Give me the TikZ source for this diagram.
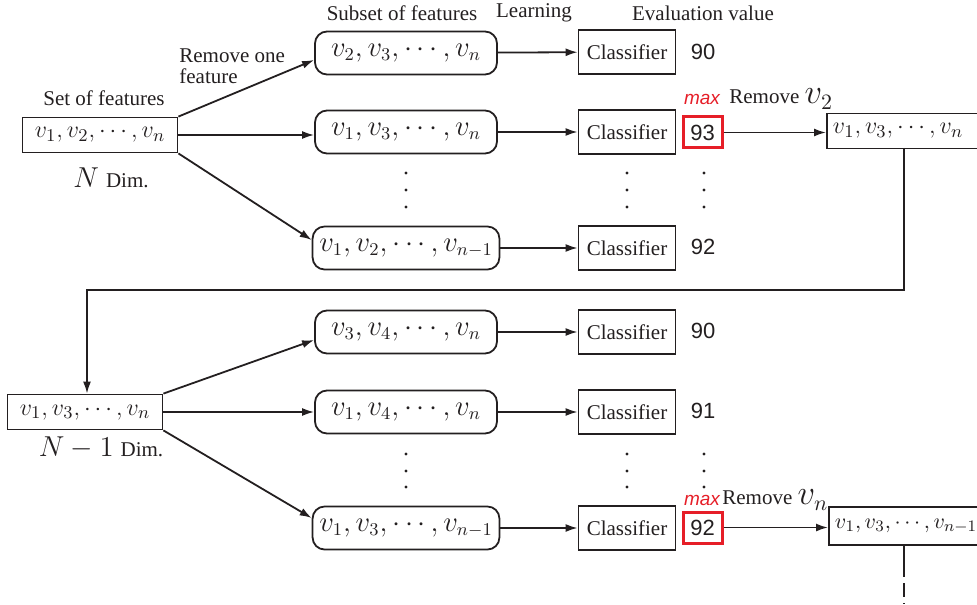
\documentclass[tikz,border=0pt]{standalone}
\usepackage{fontspec}
\setmainfont{Liberation Serif}
\newfontfamily\numfont{Liberation Sans}
\usetikzlibrary{arrows.meta,calc}
\definecolor{ink}{RGB}{35,31,32}
\definecolor{redc}{RGB}{230,30,40}
\begin{document}
\begin{tikzpicture}[x=0.5pt,y=-0.5pt,
  every node/.style={text=ink},
  lbl/.style={font=\fontsize{10.5}{10.5}\selectfont, inner sep=0},
  setbox/.style={draw=ink, line width=0.9pt, inner xsep=3pt, minimum height=17.5pt, font=\fontsize{13}{15}\selectfont},
  resbox/.style={draw=ink, line width=0.9pt, inner xsep=3pt, text width=75pt, align=left, anchor=west},
  subbox/.style={draw=ink, line width=0.9pt, rounded corners=6pt, minimum width=91pt, minimum height=21.5pt, font=\fontsize{13.5}{16}\selectfont},
  clsbox/.style={draw=ink, line width=0.9pt, minimum width=48.5pt, minimum height=22pt, font=\fontsize{10.5}{12}\selectfont, inner sep=0},
  evnum/.style={font=\numfont\fontsize{11}{13}\selectfont, inner sep=0},
  maxbox/.style={draw=redc, line width=1.5pt, minimum width=19.5pt, minimum height=15.5pt, inner sep=0, font=\numfont\fontsize{11}{13}\selectfont},
  maxlbl/.style={text=redc, font=\numfont\itshape\fontsize{9.5}{11}\selectfont, inner sep=0},
  arr/.style={draw=ink, line width=0.9pt, -{Latex[length=6pt,width=4pt]}},
  ln/.style={draw=ink, line width=0.9pt},
  dot/.style={fill=ink, circle, inner sep=0, minimum size=1.6pt}
]
\clip (0,0) rectangle (977,604);

% headers
\node[lbl] (h1) at (402,13) {Subset of features};
\node[lbl] (h2) at (534,13) {Learning};
\node[lbl] (h3) at (703,13) {Evaluation value};

% ---------- first stage ----------
\node[setbox, minimum width=77.5pt] (set1) at (100,135) {$v_1, v_2, \cdots, v_n$};
\node[lbl] (sf) at (104,98) {Set of features};
\node[lbl] (nd) at (111,178) {\fontsize{14}{16}\selectfont$N$ \fontsize{10.5}{12}\selectfont Dim.};
\node[lbl, anchor=west, align=left] (rof) at (179,66) {Remove one\\feature};

\node[subbox] (sub1) at (406,53) {$v_2, v_3, \cdots, v_n$};
\node[subbox] (sub2) at (406,132) {$v_1, v_3, \cdots, v_n$};
\node[subbox] (sub3) at (406,248) {$v_1, v_2, \cdots, v_{n-1}$};

\node[clsbox] (cls1) at (627,52) {Classifier};
\node[clsbox] (cls2) at (627,132) {Classifier};
\node[clsbox] (cls3) at (627,248) {Classifier};

\node[evnum] (ev1) at (703,52) {90};
\node[maxbox] (ev2) at (702.5,132.5) {93};
\node[evnum] (ev3) at (703,247) {92};

\node[maxlbl] (max1) at (702,99) {max};
\node[lbl, anchor=west] (rm1) at (729,99) {Remove \fontsize{16}{18}\selectfont$v_2$};

\node[resbox, minimum height=17.5pt, font=\fontsize{13}{15}\selectfont] (res1) at (826,131) {$v_1, v_3, \cdots, v_n$};

\draw[arr] (set1.north east) -- ($(sub1.west)+(0,7)$);
\draw[arr] (set1.east) -- (sub2.west |- set1.east);
\draw[arr] (set1.south east) -- ($(sub3.west)+(0,-8)$);
\draw[arr] (sub1) -- (cls1);
\draw[arr] (sub2) -- (cls2);
\draw[arr] (sub3) -- (cls3);
\draw[arr] (ev2) -- (ev2 -| res1.west);

\foreach \yy in {173,190,207}{
  \node[dot] at (406,\yy) {};
  \node[dot] at (627,\yy) {};
  \node[dot] at (704,\yy) {};
}

% loop back
\coordinate (turn) at (87,290);
\coordinate (drop) at (904,148);

% ---------- second stage ----------
\node[setbox, minimum width=77.5pt] (set2) at (85,412) {$v_1, v_3, \cdots, v_n$};
\node[lbl] (nd2) at (101,448) {\fontsize{14}{16}\selectfont$N-1$ \fontsize{10.5}{12}\selectfont Dim.};

\draw[arr] (drop) -- (drop |- turn) -- (turn) -- (turn |- set2.north);

\node[subbox] (sub4) at (406,332) {$v_3, v_4, \cdots, v_n$};
\node[subbox] (sub5) at (406,412) {$v_1, v_4, \cdots, v_n$};
\node[subbox] (sub6) at (406,528) {$v_1, v_3, \cdots, v_{n-1}$};

\node[clsbox] (cls4) at (627,332) {Classifier};
\node[clsbox] (cls5) at (627,412) {Classifier};
\node[clsbox] (cls6) at (627,528) {Classifier};

\node[evnum] (ev4) at (703,331) {90};
\node[evnum] (ev5) at (703,411) {91};
\node[maxbox] (ev6) at (702.5,527.5) {92};

\node[maxlbl] (max2) at (702,500) {max};
\node[lbl, anchor=west] (rm2) at (722,500) {Remove \fontsize{16}{18}\selectfont$v_n$};

\node[resbox, minimum height=19pt, font=\fontsize{11.2}{15}\selectfont] (res2) at (828,526) {$v_1, v_3, \cdots, v_{n-1}$};

\draw[arr] (set2.north east) -- ($(sub4.west)+(0,8)$);
\draw[arr] (set2.east) -- (sub5.west);
\draw[arr] (set2.south east) -- ($(sub6.west)+(0,-10)$);
\draw[arr] (sub4) -- (cls4);
\draw[arr] (sub5) -- (cls5);
\draw[arr] (sub6) -- (cls6);
\draw[arr] (ev6) -- (ev6 -| res2.west);

\foreach \yy in {454,471,487}{
  \node[dot] at (406,\yy) {};
  \node[dot] at (627,\yy) {};
  \node[dot] at (704,\yy) {};
}

\coordinate (tail) at (904,577);
\coordinate (tailend) at (904,604);
\draw[ln] (tail |- res2.south) -- (tail);
\draw[ln, dash pattern=on 7pt off 3pt, dash phase=-3pt] (tail) -- (tailend);
\end{tikzpicture}
\end{document}
